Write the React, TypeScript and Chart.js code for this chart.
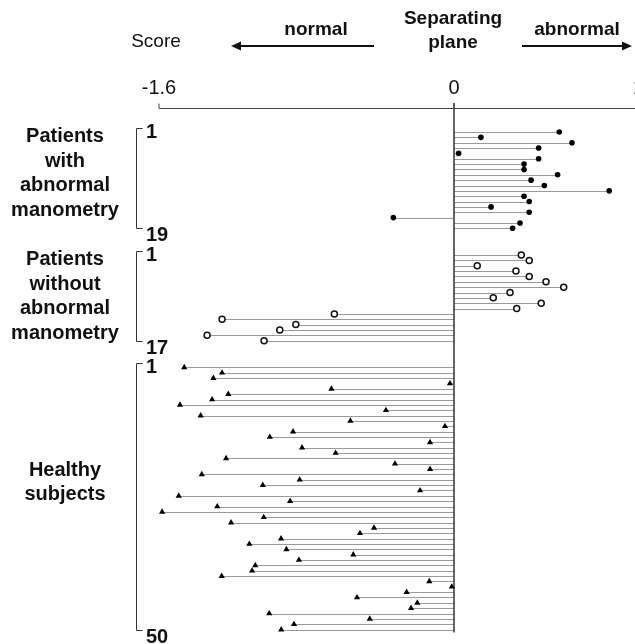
import React, { useEffect, useRef } from "react";
import { Chart, registerables } from "chart.js";

Chart.register(...registerables);

// ---- data ----
const abnormalScores = [0.571, 0.146, 0.640, 0.459, 0.025, 0.459, 0.380, 0.380, 0.562, 0.418, 0.490, 0.842, 0.380, 0.408, 0.201, 0.408, -0.329, 0.358, 0.318];
const withoutScores = [0.365, 0.408, 0.126, 0.336, 0.408, 0.499, 0.595, 0.304, 0.213, 0.473, 0.340, -0.649, -1.258, -0.858, -0.945, -1.339, -1.030];
const healthyScores = [
  -1.463, -1.258, -1.305, -0.022, -0.665, -1.224, -1.312, -1.486, -0.369, -1.374,
  -0.562, -0.049, -0.873, -0.999, -0.130, -0.824, -0.642, -1.236, -0.320, -0.130,
  -1.368, -0.837, -1.037, -0.184, -1.493, -0.889, -1.284, -1.583, -1.032, -1.209,
  -0.434, -0.510, -0.938, -1.110, -0.909, -0.546, -0.841, -1.078, -1.095, -1.260,
  -0.134, -0.012, -0.257, -0.526, -0.199, -0.233, -1.002, -0.457, -0.868, -0.937,
];
const groupNames = [
  ["Patients", "with", "abnormal", "manometry"],
  ["Patients", "without", "abnormal", "manometry"],
  ["Healthy", "subjects"],
];
const xTickValues = [-1.6, 0, 1];
const xTickLabels = ["-1.6", "0", "1"];
const GAP_ROWS = 4;

const start1 = 0;
const start2 = abnormalScores.length + GAP_ROWS;
const start3 = start2 + withoutScores.length + GAP_ROWS;
const groups = [
  { start: start1, count: abnormalScores.length },
  { start: start2, count: withoutScores.length },
  { start: start3, count: healthyScores.length },
];
const lastRow = start3 + healthyScores.length - 1;

const FONT = "'Liberation Sans', Arial, Helvetica, sans-serif";

const lollipopPlugin = {
  id: "lollipop",
  beforeDatasetsDraw(chart: any) {
    const { ctx } = chart;
    const xs = chart.scales.x;
    const ys = chart.scales.y;
    const x0 = xs.getPixelForValue(0);
    ctx.save();
    ctx.strokeStyle = "#9a9a9a";
    ctx.lineWidth = 1;
    chart.data.datasets.forEach((_: any, di: number) => {
      const meta = chart.getDatasetMeta(di);
      meta.data.forEach((el: any) => {
        const y = Math.round(el.y) + 0.5;
        ctx.beginPath();
        ctx.moveTo(x0, y);
        ctx.lineTo(el.x, y);
        ctx.stroke();
      });
    });
    // zero line (separating plane)
    const axisY = ys.getPixelForValue(0) - 24;
    ctx.strokeStyle = "#333";
    ctx.lineWidth = 1.5;
    ctx.beginPath();
    ctx.moveTo(x0, axisY - 5);
    ctx.lineTo(x0, ys.getPixelForValue(lastRow) + 3);
    ctx.stroke();
    ctx.restore();
  },
  afterDraw(chart: any) {
    const { ctx } = chart;
    const xs = chart.scales.x;
    const ys = chart.scales.y;
    const axisY = Math.round(ys.getPixelForValue(0) - 24) + 0.5;
    ctx.save();
    // axis
    ctx.strokeStyle = "#444";
    ctx.lineWidth = 1;
    ctx.beginPath();
    ctx.moveTo(xs.getPixelForValue(-1.6), axisY);
    ctx.lineTo(chart.width, axisY);
    ctx.stroke();
    ctx.fillStyle = "#111";
    ctx.textAlign = "center";
    ctx.textBaseline = "middle";
    ctx.font = `20px ${FONT}`;
    xTickValues.forEach((v, i) => {
      const px = xs.getPixelForValue(v);
      ctx.beginPath();
      ctx.moveTo(px, axisY - 5);
      ctx.lineTo(px, axisY);
      ctx.stroke();
      ctx.fillText(xTickLabels[i], px, axisY - 20);
    });

    // header
    ctx.font = `19px ${FONT}`;
    ctx.fillText("Score", 156, 42);
    ctx.font = `bold 19px ${FONT}`;
    ctx.fillText("normal", 316, 30);
    ctx.fillText("Separating", 453, 19);
    ctx.fillText("plane", 453, 43);
    ctx.fillText("abnormal", 577, 30);

    // arrows
    ctx.strokeStyle = "#111";
    ctx.lineWidth = 2;
    const arrow = (xa: number, xb: number, y: number) => {
      const dir = Math.sign(xb - xa);
      ctx.beginPath();
      ctx.moveTo(xa, y);
      ctx.lineTo(xb - dir * 8, y);
      ctx.stroke();
      ctx.beginPath();
      ctx.moveTo(xb, y);
      ctx.lineTo(xb - dir * 10, y - 4.5);
      ctx.lineTo(xb - dir * 10, y + 4.5);
      ctx.closePath();
      ctx.fill();
    };
    arrow(374, 231, 46);
    arrow(522, 632, 46);

    // group brackets and labels
    const bx = 136.5;
    const labelRows = [0.9, 23.9, 63.2];
    groups.forEach((g, gi) => {
      const yTop = Math.round(ys.getPixelForValue(g.start) - 4) + 0.5;
      const yBot = Math.round(ys.getPixelForValue(g.start + g.count - 1)) + 0.5;
      ctx.strokeStyle = "#333";
      ctx.lineWidth = 1;
      ctx.beginPath();
      ctx.moveTo(bx + 6, yTop);
      ctx.lineTo(bx, yTop);
      ctx.lineTo(bx, yBot);
      ctx.lineTo(bx + 6, yBot);
      ctx.stroke();
      ctx.font = `bold 20px ${FONT}`;
      ctx.textAlign = "left";
      ctx.fillText("1", 146, yTop + 4);
      ctx.fillText(String(g.count), 146, yBot + 7);
      ctx.textAlign = "center";
      const y0 = ys.getPixelForValue(labelRows[gi]);
      groupNames[gi].forEach((line, li) => {
        ctx.fillText(line, 65, y0 + li * 24.4);
      });
    });
    ctx.restore();
  },
};

export default function App() {
  const ref = useRef<HTMLCanvasElement>(null);
  useEffect(() => {
    if (!ref.current) return;
    const chart = new Chart(ref.current, {
      type: "scatter",
      data: {
        datasets: [
          {
            label: "Patients with abnormal manometry",
            data: abnormalScores.map((v, i) => ({ x: v, y: start1 + i })),
            pointStyle: "circle",
            pointRadius: 2.8,
            backgroundColor: "#000",
            borderColor: "#000",
            borderWidth: 0,
            clip: false,
          },
          {
            label: "Patients without abnormal manometry",
            data: withoutScores.map((v, i) => ({ x: v, y: start2 + i })),
            pointStyle: "circle",
            pointRadius: 3,
            backgroundColor: "#fff",
            borderColor: "#111",
            borderWidth: 1.5,
            clip: false,
          },
          {
            label: "Healthy subjects",
            data: healthyScores.map((v, i) => ({ x: v, y: start3 + i })),
            pointStyle: "triangle",
            pointRadius: 3.6,
            backgroundColor: "#000",
            borderColor: "#000",
            borderWidth: 0,
            clip: false,
          },
        ],
      },
      options: {
        animation: false,
        responsive: false,
        layout: { autoPadding: false, padding: { top: 126.65, bottom: 9.05, left: 159, right: 0 } },
        plugins: { legend: { display: false }, tooltip: { enabled: false } },
        scales: {
          x: { type: "linear", min: -1.6, max: 0.9817, display: false },
          y: { type: "linear", min: -1, max: 94, reverse: true, display: false },
        },
      },
      plugins: [lollipopPlugin],
    });
    return () => chart.destroy();
  }, []);
  return (
    <div style={{ position: "absolute", left: 0, top: 0, width: 635, height: 644, background: "#fff" }}>
      <canvas ref={ref} width={635} height={644} />
    </div>
  );
}
